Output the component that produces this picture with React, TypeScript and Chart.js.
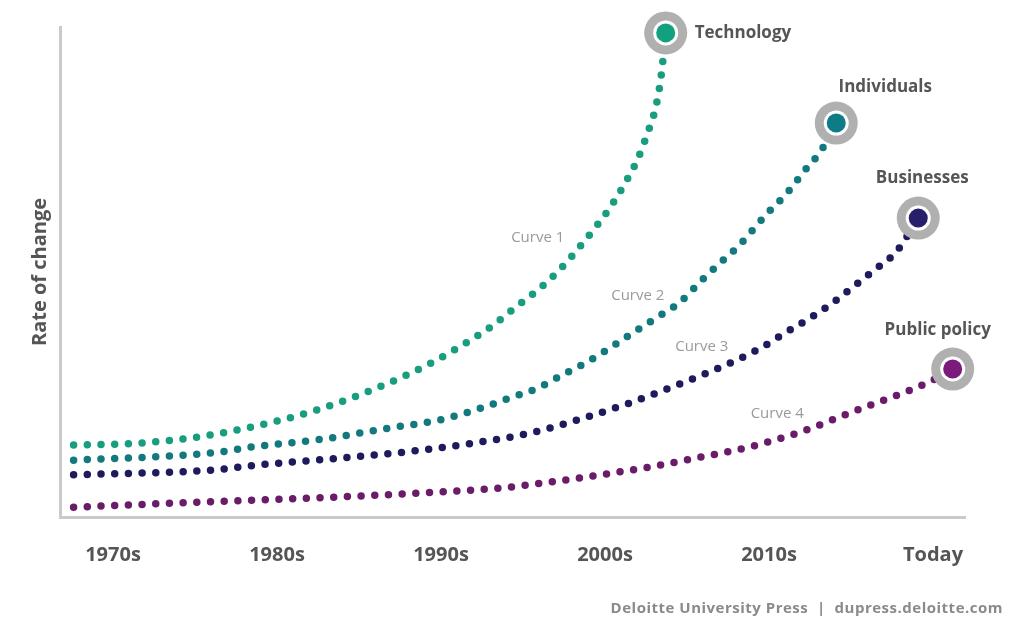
import React, { useEffect, useRef } from "react";
import { Chart, registerables } from "chart.js";

Chart.register(...registerables);

// Decade ticks along the bottom
const decadeLabels = ["1970s", "1980s", "1990s", "2000s", "2010s", "Today"];
const decadeYears = [1970, 1980, 1990, 2000, 2010, 2020];

// Curve 1 – Technology
const techYears = [1967.6, 1971.7, 1975.1, 1978.5, 1982.4, 1986.5, 1989.5, 1991.8, 1993.2, 1994.5, 1995.9, 1997.1, 1998.2, 1999.3, 2000.3, 2001.2, 2002.0, 2002.6, 2003.1, 2003.4, 2003.7];
const techValues = [14.7, 15.1, 16.3, 18.4, 21.8, 26.9, 31.6, 36.1, 39.2, 42.7, 46.3, 50.0, 54.1, 58.6, 63.1, 68.0, 73.1, 78.4, 83.7, 89.4, 98.8];

// Curve 2 – Individuals
const indivYears = [1967.6, 1976.1, 1978.5, 1982.8, 1986.9, 1989.9, 1992.6, 1994.2, 1995.9, 1997.4, 1998.9, 2000.3, 2001.7, 2003.2, 2004.6, 2005.8, 2007.0, 2008.2, 2009.9, 2011.1, 2012.1, 2013.2, 2014.1];
const indivValues = [11.6, 13.1, 14.3, 15.9, 18.2, 19.8, 22.4, 24.3, 26.3, 29.0, 31.6, 34.5, 37.6, 40.8, 43.9, 48.0, 51.8, 55.5, 62.0, 66.1, 70.4, 74.9, 80.4];

// Curve 3 – Businesses
const bizYears = [1967.6, 1976.1, 1978.8, 1983.8, 1987.9, 1992.0, 1995.4, 1998.7, 2001.7, 2004.9, 2008.0, 2009.6, 2011.0, 2012.4, 2013.8, 2015.1, 2016.5, 2017.8, 2019.1];
const bizValues = [8.6, 9.6, 10.6, 12.0, 13.3, 15.1, 17.1, 20.2, 23.5, 27.6, 32.0, 34.7, 37.6, 40.4, 43.5, 46.9, 50.6, 54.3, 61.0];

// Curve 4 – Public policy
const policyYears = [1967.6, 1975.7, 1983.8, 1989.9, 1993.6, 1996.6, 1999.7, 2002.7, 2005.8, 2008.8, 2011.9, 2014.9, 2018.0, 2019.8, 2021.2];
const policyValues = [2.0, 3.1, 4.1, 5.1, 5.9, 7.1, 8.6, 10.2, 12.2, 14.3, 17.3, 21.2, 25.1, 27.6, 30.2];

const seriesNames = ["Technology", "Individuals", "Businesses", "Public policy"];
const curveNames = ["Curve 1", "Curve 2", "Curve 3", "Curve 4"];

const dotColors = ["#189e7f", "#127a7e", "#1e1b5c", "#6a1c69"];
const markerColors = ["#12a07f", "#0e7c86", "#261f6a", "#7b1c7c"];

// Where each "Curve n" caption sits, in axis units (year, value)
const curveCaptionAt = [
  { x: 1995.9, y: 56.9 },
  { x: 2002.0, y: 45.1 },
  { x: 2005.9, y: 34.7 },
  { x: 2010.5, y: 21.0 },
];

// Series-name placement relative to each end marker (pixels)
const nameOffsets = [
  { dx: 29, dy: 0, align: "left" as CanvasTextAlign },
  { dx: 49, dy: -36, align: "center" as CanvasTextAlign },
  { dx: 4, dy: -40, align: "center" as CanvasTextAlign },
  { dx: -15, dy: -39, align: "center" as CanvasTextAlign },
];

const toPoints = (xs: number[], ys: number[]) => xs.map((x, i) => ({ x, y: ys[i] }));

const annotations = {
  id: "curveAnnotations",
  afterDatasetsDraw(chart: any) {
    const { ctx, scales } = chart;
    ctx.save();
    // end markers and series names
    chart.data.datasets.forEach((_: any, i: number) => {
      const meta = chart.getDatasetMeta(i);
      const last = meta.data[meta.data.length - 1];
      const { x, y } = last;
      ctx.beginPath();
      ctx.arc(x, y, 21.5, 0, Math.PI * 2);
      ctx.fillStyle = "#b0b0b0";
      ctx.fill();
      ctx.beginPath();
      ctx.arc(x, y, 12.5, 0, Math.PI * 2);
      ctx.fillStyle = "#ffffff";
      ctx.fill();
      ctx.beginPath();
      ctx.arc(x, y, 9.5, 0, Math.PI * 2);
      ctx.fillStyle = markerColors[i];
      ctx.fill();

      const off = nameOffsets[i];
      ctx.font = "bold 17px 'Open Sans'";
      ctx.fillStyle = "#555555";
      ctx.textAlign = off.align;
      ctx.textBaseline = "middle";
      ctx.fillText(seriesNames[i], x + off.dx, y + off.dy);
    });

    // curve captions
    ctx.font = "400 15px 'Open Sans'";
    ctx.fillStyle = "#9a9a9a";
    ctx.textAlign = "center";
    ctx.textBaseline = "middle";
    curveCaptionAt.forEach((p, i) => {
      ctx.fillText(curveNames[i], scales.x.getPixelForValue(p.x), scales.y.getPixelForValue(p.y));
    });

    // source line
    ctx.font = "bold 15px 'Open Sans'";
    ctx.fillStyle = "#8a8a8a";
    ctx.textAlign = "right";
    (ctx as any).letterSpacing = "0.5px";
    ctx.fillText("Deloitte University Press  |  dupress.deloitte.com", 1003, 609);
    ctx.restore();
  },
};

export default function App() {
  const canvasRef = useRef<HTMLCanvasElement | null>(null);

  useEffect(() => {
    if (!canvasRef.current) return;
    Chart.defaults.font.family = "'Open Sans', sans-serif";
    const seriesPoints = [
      toPoints(techYears, techValues),
      toPoints(indivYears, indivValues),
      toPoints(bizYears, bizValues),
      toPoints(policyYears, policyValues),
    ];
    const chart = new Chart(canvasRef.current, {
      type: "line",
      data: {
        datasets: seriesPoints.map((pts, i) => ({
          label: seriesNames[i],
          data: pts,
          borderColor: dotColors[i],
          borderWidth: 7.5,
          borderDash: [0, 13.7],
          borderCapStyle: "round",
          cubicInterpolationMode: "monotone",
          pointRadius: 0,
          pointHoverRadius: 0,
          fill: false,
          clip: false,
        })),
      },
      options: {
        animation: false,
        responsive: true,
        maintainAspectRatio: false,
        events: [],
        layout: { padding: { top: 27, right: 49, left: 0, bottom: 0 } },
        plugins: {
          legend: { display: false },
          tooltip: { enabled: false },
        },
        scales: {
          x: {
            type: "linear",
            min: 1966.77,
            max: 2021.95,
            grid: { display: false, drawTicks: false },
            border: { display: true, color: "#cacaca", width: 3 },
            afterBuildTicks: (scale: any) => {
              scale.ticks = decadeYears.map((v) => ({ value: v }));
            },
            afterFit: (scale: any) => {
              scale.height = 103;
            },
            ticks: {
              autoSkip: false,
              maxRotation: 0,
              padding: 26,
              color: "#555555",
              font: { size: 20, weight: "bold" },
              callback: (value: any) => {
                const idx = decadeYears.indexOf(Number(value));
                return idx >= 0 ? decadeLabels[idx] : "";
              },
            },
          },
          y: {
            type: "linear",
            min: 0,
            max: 100,
            grid: { display: false, drawTicks: false },
            border: { display: true, color: "#cacaca", width: 3 },
            ticks: { display: false },
            afterFit: (scale: any) => {
              scale.width = 60;
            },
            title: {
              display: true,
              text: "Rate of change",
              color: "#555555",
              font: { size: 20, weight: "bold" },
              padding: { top: 28, bottom: 0 },
            },
          },
        },
      },
      plugins: [annotations],
    });
    return () => chart.destroy();
  }, []);

  return (
    <div style={{ position: "fixed", left: 0, top: 0, width: 1014, height: 620, background: "#ffffff" }}>
      <canvas ref={canvasRef} />
    </div>
  );
}
